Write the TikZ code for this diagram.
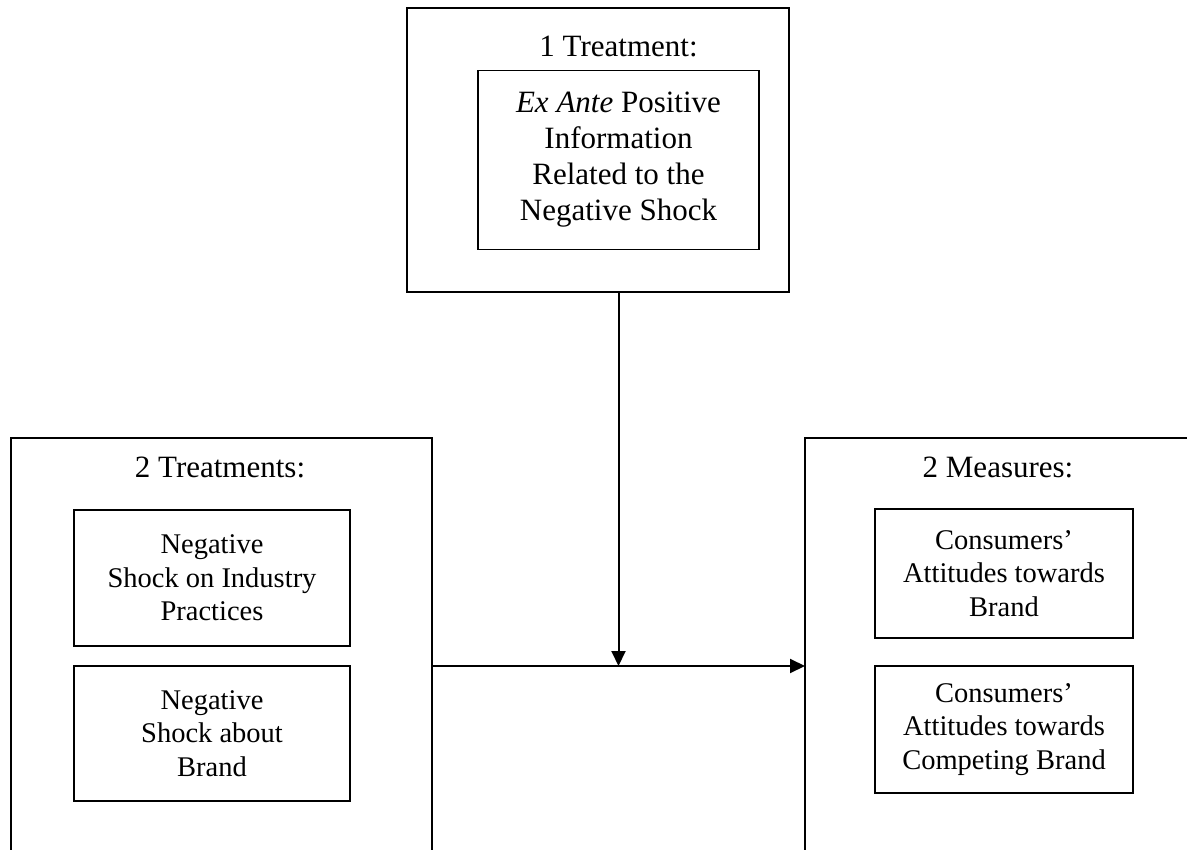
\documentclass[tikz,border=0pt]{standalone}
\usepackage{fontspec}
\setmainfont{Liberation Serif}
\usetikzlibrary{arrows.meta}
\begin{document}
\begin{tikzpicture}[x=1pt,y=-1pt,
  frame/.style={draw=black,line width=1.5pt,inner sep=0pt,outer sep=0pt,rectangle},
  txt/.style={align=center,inner sep=0pt,font=\fontsize{28.5}{33.5}\selectfont},
  bigtxt/.style={align=center,inner sep=0pt,font=\fontsize{31}{36}\selectfont},
  conn/.style={line width=2pt,-{Triangle[length=15pt,width=14pt]}}]
\useasboundingbox (0,0) rectangle (1187,850);
\clip (0,0) rectangle (1187,850);
% top group
\node[frame,minimum width=382pt,minimum height=284pt] (topbox) at (598,150) {};
\node[bigtxt] (toptitle) at (618.5,46) {1 Treatment:};
\node[frame,bigtxt,minimum width=281pt,minimum height=179pt] (topin) at (618.5,160)
  {\textit{Ex Ante} Positive\\Information\\Related to the\\Negative Shock};
% left group
\node[frame,minimum width=421pt,minimum height=432pt] (leftbox) at (221.5,654) {};
\node[bigtxt] (lefttitle) at (220,467) {2 Treatments:};
\node[frame,txt,minimum width=276pt,minimum height=136pt] (leftA) at (212,578)
  {Negative\\Shock on Industry\\Practices};
\node[frame,txt,minimum width=276pt,minimum height=135pt] (leftB) at (212,733.5)
  {Negative\\Shock about\\Brand};
% right group
\node[frame,minimum width=455pt,minimum height=432pt] (rightbox) at (1032.5,654) {};
\node[bigtxt] (righttitle) at (998,467) {2 Measures:};
\node[frame,txt,minimum width=258pt,minimum height=129pt] (rightA) at (1004,573.5)
  {Consumers’\\Attitudes towards\\Brand};
\node[frame,txt,minimum width=258pt,minimum height=127pt] (rightB) at (1004,729.5)
  {Consumers’\\Attitudes towards\\Competing Brand};
% connectors
\coordinate (junction) at (618.5,666);
\draw[conn] (topin.south |- topbox.south) -- (junction);
\draw[conn] (leftbox.east |- junction) -- (rightbox.west |- junction);
\end{tikzpicture}
\end{document}
